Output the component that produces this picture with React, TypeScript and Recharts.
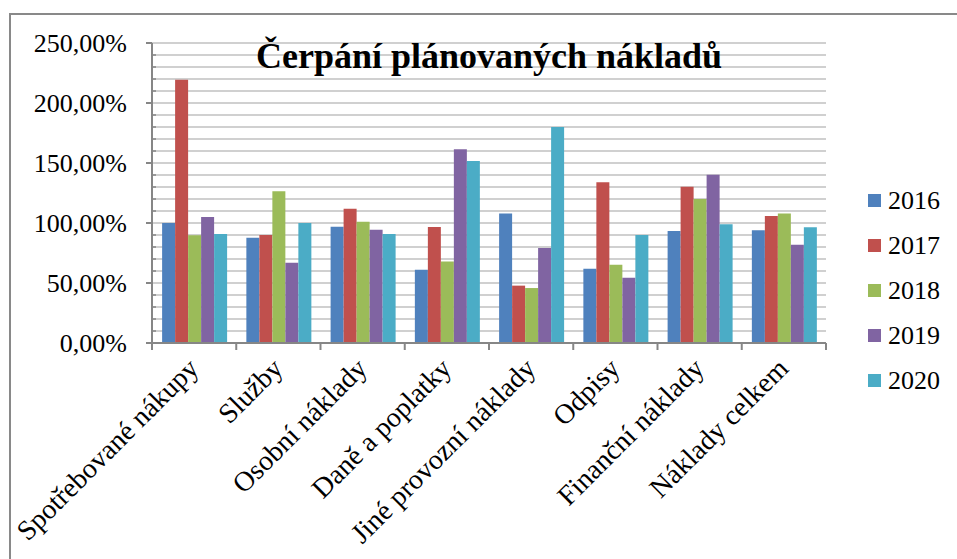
import { BarChart, Bar, XAxis, YAxis, CartesianGrid } from 'recharts';

const categories = [
  'Spotřebované nákupy',
  'Služby',
  'Osobní náklady',
  'Daně a poplatky',
  'Jiné provozní náklady',
  'Odpisy',
  'Finanční náklady',
  'Náklady celkem',
];

const years = ['2016', '2017', '2018', '2019', '2020'];

const v2016 = [100, 87.7, 96.9, 61.1, 108, 61.9, 93.3, 93.9];
const v2017 = [219.4, 90, 111.9, 96.7, 47.8, 133.9, 130.3, 105.8];
const v2018 = [89.7, 126.4, 101.1, 68, 45.8, 65.3, 120, 108];
const v2019 = [105, 66.9, 94.4, 161.4, 79.2, 54.4, 140.3, 81.9];
const v2020 = [90.8, 100, 90.8, 151.6, 180, 90, 98.9, 96.4];

const yTicks = [0, 10, 20, 30, 40, 50, 60, 70, 80, 90, 100, 110, 120, 130, 140, 150, 160, 170, 180, 190, 200, 210, 220, 230, 240, 250];

const COLORS = ['#4F81BD', '#C0504D', '#9BBB59', '#8064A2', '#4BACC6'];

const W = 957;
const H = 559;
const MARGIN = { top: 43, right: 131, left: 0, bottom: 0 };
const YAXIS_W = 152;
const XAXIS_H = 216;
const TICK_SIZE = 6;
const TICK_MARGIN = 14;
const FONT = '"Liberation Serif", "Times New Roman", serif';
const AXIS_COLOR = '#868686';

const series = [v2016, v2017, v2018, v2019, v2020];

const data = categories.map((name, i) => {
  const row: Record<string, string | number> = { name };
  years.forEach((y, s) => {
    row[y] = series[s][i];
  });
  return row;
});

const fmt = (v: number) => v.toFixed(2).replace('.', ',') + '%';

function YTick(props: any) {
  const { x, y, payload } = props;
  const ax = x + TICK_SIZE + TICK_MARGIN;
  const major = payload.value % 50 === 0;
  return (
    <g>
      {major ? (
        <>
          <line x1={ax - 6} x2={ax} y1={y} y2={y} stroke={AXIS_COLOR} strokeWidth={2} />
          <text x={ax - 25} y={y} dy="0.34em" textAnchor="end" fontSize={26} fill="#000" fontFamily={FONT}>
            {fmt(payload.value)}
          </text>
        </>
      ) : (
        <line x1={ax} x2={ax + 4} y1={y} y2={y} stroke={AXIS_COLOR} strokeWidth={1.5} />
      )}
    </g>
  );
}

function XTick(props: any) {
  const { x, y, payload } = props;
  const ay = y - TICK_SIZE - TICK_MARGIN;
  const plotW = W - MARGIN.left - MARGIN.right - YAXIS_W;
  const half = plotW / categories.length / 2;
  const last = payload.index === categories.length - 1;
  const tx = x + 6;
  const ty = ay + 27;
  return (
    <g>
      <line x1={x - half} x2={x - half} y1={ay} y2={ay + 7} stroke={AXIS_COLOR} strokeWidth={2} />
      {last && <line x1={x + half} x2={x + half} y1={ay} y2={ay + 7} stroke={AXIS_COLOR} strokeWidth={2} />}
      <text
        x={tx}
        y={ty}
        textAnchor="end"
        fontSize={28}
        fill="#000"
        fontFamily={FONT}
        transform={`rotate(-45, ${tx}, ${ty})`}
      >
        {payload.value}
      </text>
    </g>
  );
}

function LegendBox() {
  return (
    <div style={{ position: 'absolute', left: 868, top: 178, fontFamily: FONT }}>
      {years.map((y, i) => (
        <div key={y} style={{ display: 'flex', alignItems: 'center', height: 45 }}>
          <span style={{ display: 'inline-block', width: 13, height: 13, background: COLORS[i], marginRight: 7 }} />
          <span style={{ fontSize: 26, color: '#000' }}>{y}</span>
        </div>
      ))}
    </div>
  );
}

export default function App() {
  return (
    <div style={{ position: 'absolute', left: 0, top: 0, width: W, height: H, background: '#fff', overflow: 'hidden' }}>
      <div
        style={{
          position: 'absolute',
          left: 9,
          top: 13,
          width: W,
          height: H,
          borderTop: '2px solid #898989',
          borderLeft: '2px solid #898989',
        }}
      />
      <BarChart
        width={W}
        height={H}
        data={data}
        margin={MARGIN}
        barCategoryGap="12%"
        barGap={0}
        style={{ position: 'absolute', left: 0, top: 0 }}
      >
        <CartesianGrid vertical={false} stroke="#c0c0c0" strokeWidth={1.5} />
        <XAxis
          dataKey="name"
          height={XAXIS_H}
          interval={0}
          tickLine={false}
          tickSize={TICK_SIZE}
          tickMargin={TICK_MARGIN}
          axisLine={{ stroke: AXIS_COLOR, strokeWidth: 2 }}
          tick={<XTick />}
        />
        <YAxis
          width={YAXIS_W}
          domain={[0, 250]}
          ticks={yTicks}
          interval={0}
          tickLine={false}
          tickSize={TICK_SIZE}
          tickMargin={TICK_MARGIN}
          axisLine={{ stroke: AXIS_COLOR, strokeWidth: 2 }}
          tick={<YTick />}
        />
        {years.map((y, i) => (
          <Bar key={y} dataKey={y} fill={COLORS[i]} isAnimationActive={false} />
        ))}
      </BarChart>
      <LegendBox />
      <div
        style={{
          position: 'absolute',
          left: YAXIS_W,
          top: 38,
          width: W - YAXIS_W - MARGIN.right,
          textAlign: 'center',
          fontFamily: FONT,
          fontWeight: 'bold',
          fontSize: 36,
          lineHeight: '36px',
          color: '#000',
          whiteSpace: 'nowrap',
        }}
      >
        Čerpání plánovaných nákladů
      </div>
    </div>
  );
}
